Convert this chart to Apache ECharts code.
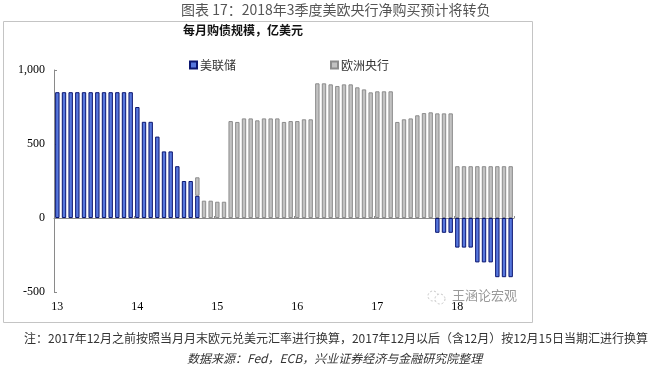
<!DOCTYPE html>
<html>
<head>
<meta charset="utf-8">
<script src="https://cdn.jsdelivr.net/npm/echarts@6/dist/echarts.min.js"></script>
<style>
html,body{margin:0;padding:0;background:#fff;}
#chart{width:655px;height:371px;}
</style>
</head>
<body>
<div id="chart"></div>
<script>
// Months Jan 2013 .. Sep 2018
var categories = [];
(function(){
  for (var y = 2013; y <= 2018; y++) {
    for (var m = 1; m <= 12; m++) {
      if (y === 2018 && m > 9) break;
      categories.push(y + '-' + (m < 10 ? '0' + m : m));
    }
  }
})();
var xTickLabels = ['13', '14', '15', '16', '17', '18'];
var yTickLabels = ['-500', '0', '500', '1,000'];

var fedValues = [
  // 2013
  850, 850, 850, 850, 850, 850, 850, 850, 850, 850, 850, 850,
  // 2014
  750, 650, 650, 550, 450, 450, 350, 250, 250, 150, null, null,
  // 2015
  null, null, null, null, null, null, null, null, null, null, null, null,
  // 2016
  null, null, null, null, null, null, null, null, null, null, null, null,
  // 2017
  null, null, null, null, null, null, null, null, null, -100, -100, -100,
  // 2018
  -200, -200, -200, -300, -300, -300, -400, -400, -400
];
var ecbValues = [
  // 2013
  null, null, null, null, null, null, null, null, null, null, null, null,
  // 2014
  null, null, null, null, null, null, null, null, null, 125, 117, 117,
  // 2015
  110, 110, 655, 649, 673, 673, 660, 673, 673, 673, 649, 655,
  // 2016
  655, 667, 667, 910, 910, 903, 892, 903, 903, 883, 869, 849,
  // 2017
  856, 856, 856, 649, 667, 673, 694, 709, 714, 707, 707, 707,
  // 2018
  350, 350, 350, 350, 350, 350, 350, 350, 350
];

var chart = echarts.init(document.getElementById('chart'), null, {renderer: 'canvas'});
var cjk = '"Noto Sans CJK SC", "Microsoft YaHei", sans-serif';
var serif = '"Liberation Serif", "Times New Roman", serif';

var option = {
  backgroundColor: '#fff',
  animation: false,
  legend: {
    left: 184,
    top: 54,
    itemWidth: 7,
    itemHeight: 7,
    itemGap: 94,
    icon: 'rect',
    textStyle: {fontFamily: cjk, fontSize: 12, color: '#333', padding: [0, 0, 0, -2]},
    data: ['美联储', '欧洲央行']
  },
  grid: {left: 54, right: 141, top: 70, bottom: 79},
  xAxis: [
    {
      type: 'category',
      data: categories,
      position: 'bottom',
      boundaryGap: true,
      axisLine: {show: false, onZero: false},
      axisTick: {show: false},
      splitLine: {show: false},
      axisLabel: {
        interval: function (i) { return i % 12 === 0; },
        formatter: function (v, i) { return xTickLabels[Math.floor(i / 12)]; },
        fontFamily: serif, fontSize: 12, color: '#000', margin: 9
      }
    },
    {
      type: 'category',
      data: categories,
      boundaryGap: true,
      axisLine: {show: true, onZero: true, lineStyle: {color: '#8a8a8a', width: 1}},
      axisTick: {show: true, inside: false, length: 2,
        interval: function (i) { return i % 12 === 0; },
        lineStyle: {color: '#8a8a8a'}},
      axisLabel: {show: false},
      splitLine: {show: false}
    }
  ],
  yAxis: {
    type: 'value',
    min: -500,
    max: 1000,
    interval: 500,
    axisLine: {show: true, lineStyle: {color: '#8a8a8a', width: 1}},
    axisTick: {show: true, inside: true, length: 3, lineStyle: {color: '#8a8a8a'}},
    splitLine: {show: false},
    axisLabel: {
      fontFamily: serif, fontSize: 12, color: '#000', margin: 9,
      formatter: function (v) { return yTickLabels[Math.round((v + 500) / 500)]; }
    }
  },
  series: [
    {
      name: '美联储',
      type: 'bar',
      stack: 'buy',
      xAxisIndex: 0,
      barWidth: 4.4,
      data: fedValues,
      itemStyle: {color: '#5677dd', borderColor: '#0b1670', borderWidth: 1}
    },
    {
      name: '欧洲央行',
      type: 'bar',
      stack: 'buy',
      xAxisIndex: 0,
      barWidth: 4.4,
      data: ecbValues,
      itemStyle: {color: '#c2c2c2', borderColor: '#8c8c8c', borderWidth: 1}
    }
  ],
  graphic: [
    {type: 'rect', shape: {x: 3.5, y: 21.5, width: 529, height: 301}, style: {fill: null, stroke: '#c4c4c4', lineWidth: 1}, silent: true, z: -1},
    {type: 'text', x: 181, y: 3, style: {text: '图表 17：2018年3季度美欧央行净购买预计将转负', font: '14px ' + cjk, fill: '#555'}},
    {type: 'text', x: 183, y: 24, style: {text: '每月购债规模，亿美元', font: 'bold 12px ' + cjk, fill: '#111'}},
    {type: 'circle', shape: {cx: 433, cy: 296, r: 5}, style: {fill: null, stroke: '#c8c8c8', lineWidth: 1, lineDash: [2, 2]}},
    {type: 'circle', shape: {cx: 440, cy: 299, r: 5}, style: {fill: '#fff', stroke: '#c8c8c8', lineWidth: 1, lineDash: [2, 2]}},
    {type: 'text', x: 452, y: 289, style: {text: '王涵论宏观', font: '13px ' + cjk, fill: '#9a9a9a'}},
    {type: 'text', x: 24, y: 332, style: {text: '注：2017年12月之前按照当月月末欧元兑美元汇率进行换算，2017年12月以后（含12月）按12月15日当期汇进行换算', font: '12px ' + cjk, fill: '#333'}},
    {type: 'text', x: 187, y: 352, style: {text: '数据来源：Fed，ECB，兴业证券经济与金融研究院整理', font: 'italic 12px ' + cjk, fill: '#333'}}
  ]
};
chart.setOption(option);
</script>
</body>
</html>
